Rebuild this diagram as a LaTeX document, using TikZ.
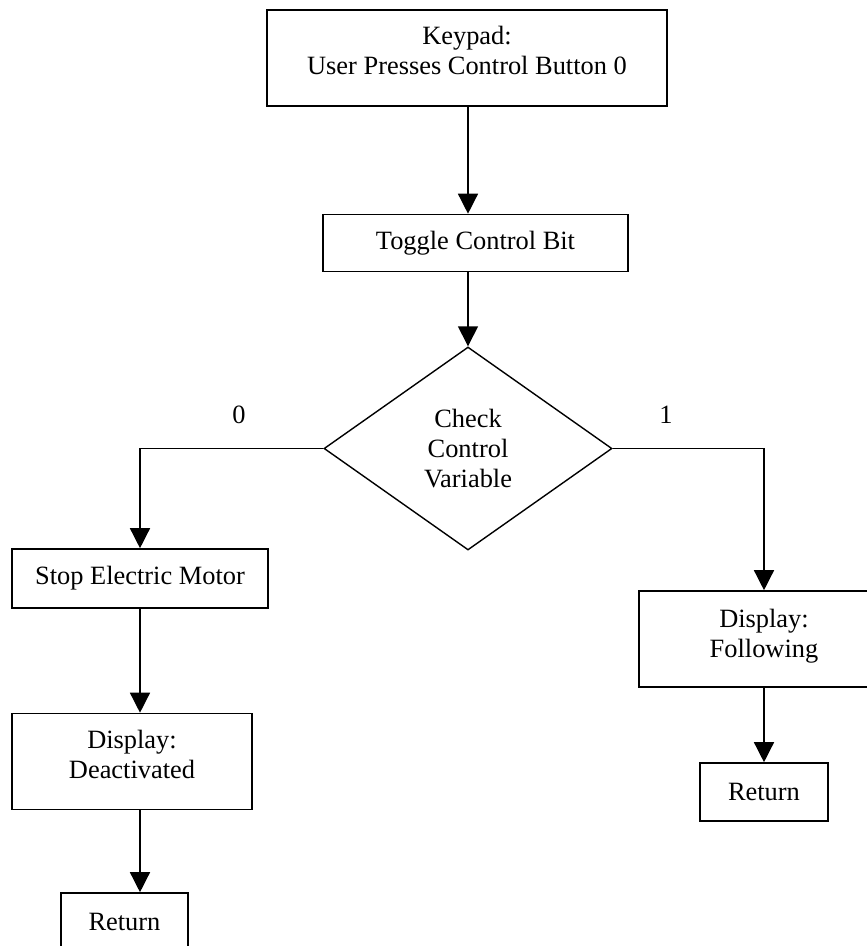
\documentclass[tikz,border=0pt]{standalone}
\usepackage{fontspec}
\setmainfont{Liberation Serif}
\usetikzlibrary{shapes.geometric,arrows.meta}

% lifts a centred block of lines without changing the space it occupies
\newcommand{\liftlines}[2]{\raisebox{#1}[\height][\depth]{\begin{tabular}{@{}c@{}}#2\end{tabular}}}

\tikzset{
  box/.style={draw, line width=1.6pt, rectangle, inner sep=0pt, align=center,
    font=\fontsize{26.4}{30}\selectfont},
  decision/.style={draw, line width=1.4pt, diamond, inner sep=0pt, align=center,
    font=\fontsize{26.4}{30}\selectfont},
  flow/.style={line width=1.4pt, -{Triangle[width=20pt,length=20pt]}},
  branchlabel/.style={font=\fontsize{26.4}{30}\selectfont, inner sep=0pt}
}

\begin{document}
\begin{tikzpicture}[x=1pt,y=-1pt]
  \useasboundingbox (0,0) rectangle (867,946);

  % process boxes
  \node[box, minimum width=400pt, minimum height=96pt] (keypad) at (467,58)
    {\liftlines{5pt}{Keypad:\\User Presses Control Button 0}};
  \node[box, minimum width=305pt, minimum height=57pt] (toggle) at (475.5,243)
    {Toggle Control Bit};
  \node[decision, minimum width=288pt, minimum height=203pt, shape aspect=1.42] (check) at (468,448.5)
    {Check\\Control\\Variable};

  % branch 0
  \node[box, minimum width=256pt, minimum height=59pt] (stop) at (140,578.5)
    {Stop Electric Motor};
  \node[box, minimum width=240pt, minimum height=96pt] (deact) at (132,761.5)
    {\liftlines{4pt}{Display:\\Deactivated}};
  \node[box, minimum width=127pt, minimum height=58pt] (retA) at (124.5,922)
    {Return};

  % branch 1
  \node[box, minimum width=250pt, minimum height=96pt] (follow) at (764,639)
    {\liftlines{3pt}{Display:\\Following}};
  \node[box, minimum width=128pt, minimum height=58pt] (retB) at (764,792)
    {Return};

  % branch labels
  \node[branchlabel] (lzero) at (239,415) {0};
  \node[branchlabel] (lone) at (666,415) {1};

  % connectors
  \draw[flow] (keypad.south -| check.north) -- (check.north |- toggle.north);
  \draw[flow] (toggle.south -| check.north) -- (check.north);
  \draw[flow] (check.west) -| (stop.north);
  \draw[flow] (check.east) -| (follow.north);
  \draw[flow] (stop.south) -- (stop.south |- deact.north);
  \draw[flow] (deact.south -| stop.south) -- (stop.south |- retA.north);
  \draw[flow] (follow) -- (retB);
\end{tikzpicture}
\end{document}
